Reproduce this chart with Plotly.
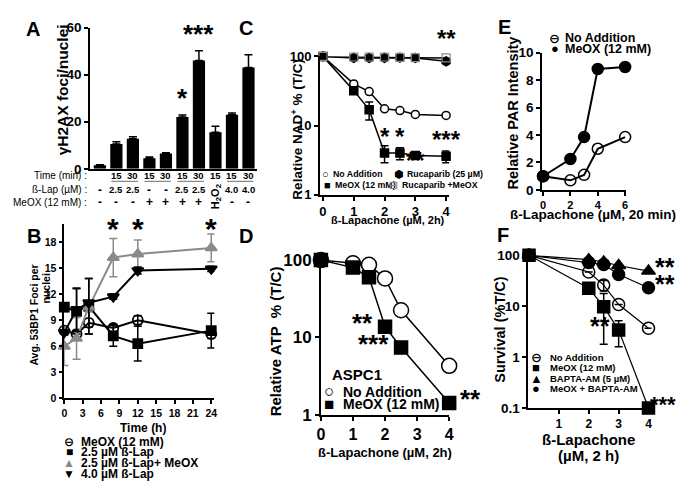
import math
import plotly.graph_objects as go

W, H = 685, 486
def px(x): return x / W
def py(y): return 1 - y / H

FONT = "Liberation Sans, Arial, DejaVu Sans, sans-serif"
GRAY = "#8a8a8a"

# ---------------- DATA ----------------
# Panel A
a_time = ["", "15", "30", "15", "30", "15", "30", "15", "15", "30"]
a_blap = ["-", "2.5", "2.5", "-", "-", "2.5", "2.5", "", "4.0", "4.0"]
a_meox = ["-", "-", "-", "+", "+", "+", "+", "", "-", "-"]
a_foci = [1.5, 10.5, 12.8, 4.5, 6.5, 22.0, 46.0, 15.5, 23.0, 43.0]
a_err = [0.2, 1.0, 0.8, 0.5, 0.3, 0.9, 4.2, 2.6, 0.7, 5.5]
a_h2o2_col = 7
a_pairs = [(1, 2), (3, 4), (5, 6), (8, 9)]
a_stars = {5: "*", 6: "***"}

# Panel B
b_time = [0, 2, 4, 8, 12, 24]
b_meox = [7.8, 7.4, 8.7, 8.1, 9.0, 7.4]
b_meox_err = [0.4, 0.4, 1.3, 0.4, 0.5, 0.5]
b_lap25 = [10.5, 10.0, 10.6, 7.2, 6.3, 7.8]
b_lap25_err = [0.5, 2.6, 3.2, 1.2, 2.0, 2.0]
b_combo = [6.0, 6.9, 10.5, 16.2, 16.6, 17.3]
b_combo_err = [2.2, 2.4, 0.5, 2.2, 1.6, 1.6]
b_lap40 = [7.6, 10.2, 11.0, 11.7, 14.7, 14.9]
b_lap40_err = [0.3, 2.5, 2.8, 0.3, 0.4, 0.3]
b_star_times = [8, 12, 24]
b_star_level = 19.0
b_ticks = [0, 3, 6, 9, 12, 15, 18, 21, 24]

# Panel C
c_dose = [0, 1, 1.5, 2, 2.5, 3, 4]
c_noadd = [100, 40, 31, 17.5, 16.5, 14.5, 14]
c_meox = [100, 32, 17, 4.0, 4.0, 3.7, 3.6]
c_meox_err = [0, 0, 5, 1.1, 0.8, 0, 0.7]
c_ruca = [100, 95, 95, 95, 96, 95, 85]
c_ruca_meox = [100, 98, 98, 98, 97, 96, 95]
c_stars = [(2, 6.0, "*"), (2.5, 6.0, "*"), (3, 2.7, "**"), (4, 5.5, "***")]
c_top_star = (4, 100, "**")

# Panel D
d_dose = [0, 1, 1.5, 2, 2.5, 4]
d_noadd = [100, 91, 87, 58, 22.5, 4.3]
d_noadd_err = [0, 0, 0, 0, 0, 0.7]
d_meox = [100, 80, 60, 13.8, 7.4, 1.42]
d_meox_err = [0, 0, 0, 0, 0, 0.2]

# Panel E
e_dose = [0, 2, 3, 4, 6]
e_noadd = [1.0, 0.7, 1.1, 3.0, 3.85]
e_meox = [1.0, 2.25, 3.85, 8.8, 8.95]

# Panel F
f_dose = [0, 2, 2.5, 3, 4]
f_noadd = [100, 47, 26, 10.8, 3.7]
f_noadd_err = [0, 0, 6, 0, 0]
f_meox = [100, 22.5, 9.8, 3.4, 0.1]
f_meox_err = [0, 0, 8, 1.8, 0]
f_bapta = [100, 82, 74, 63, 49]
f_combo = [100, 72, 66, 42, 23]

log_ticks = [1, 10, 100]
log_ticks_f = [0.1, 1, 10, 100]
log_text_f = ["0.1", "1", "10", "100"]

# ---------------- FIGURE ----------------
fig = go.Figure()

def ax(dom, rng, size, **kw):
    d = dict(domain=dom, range=rng, showline=True, linecolor="black", linewidth=1.5,
             ticks="outside", ticklen=4, tickwidth=1.5, tickcolor="black",
             showgrid=False, zeroline=False, fixedrange=True,
             tickfont=dict(family=FONT, size=size, color="black", weight="bold"))
    d.update(kw)
    return d

def errs(arr, color):
    return dict(type="data", array=arr, visible=True, color=color, thickness=1.5, width=4)

# Panel A bars
a_pos = list(range(len(a_foci)))
fig.add_trace(go.Bar(x=a_pos, y=a_foci, width=0.74, marker=dict(color="black", line=dict(width=0)),
                     error_y=dict(type="data", array=a_err, arrayminus=[0] * len(a_err), symmetric=False,
                                  color="black", thickness=1.5, width=4),
                     xaxis="x", yaxis="y", showlegend=False))

# Panel B
def btrace(y, e, sym, color, size=10):
    mk = dict(symbol=sym, size=size, color=color, line=dict(width=1.8, color=color))
    fig.add_trace(go.Scatter(x=b_time, y=y, mode="lines+markers", line=dict(color=color, width=2),
                             marker=mk, error_y=errs(e, color), xaxis="x2", yaxis="y2",
                             showlegend=False, cliponaxis=False))
btrace(b_meox, b_meox_err, "circle-open", "black")
btrace(b_lap25, b_lap25_err, "square", "black", 9)
btrace(b_combo, b_combo_err, "triangle-up", GRAY, 10)
btrace(b_lap40, b_lap40_err, "triangle-down", "black", 10)

def sc(x, y, xa, ya, sym, size, fill, edge, lw=1.5, e=None, ecol="black", linecol="black", lwidth=1.5):
    kw = {}
    if e is not None:
        kw["error_y"] = errs(e, ecol)
    fig.add_trace(go.Scatter(x=x, y=y, mode="lines+markers", line=dict(color=linecol, width=lwidth),
                             marker=dict(symbol=sym, size=size, color=fill, line=dict(color=edge, width=lw)),
                             xaxis=xa, yaxis=ya, showlegend=False, cliponaxis=False, **kw))

# Panel C
sc(c_dose, c_noadd, "x3", "y3", "circle", 8, "white", "black")
sc(c_dose, c_meox, "x3", "y3", "square", 8, "black", "black", e=c_meox_err)
sc(c_dose, c_ruca, "x3", "y3", "hexagon", 9, "black", "black")
sc(c_dose, c_ruca_meox, "x3", "y3", "square-open", 8, GRAY, GRAY, lw=1.2)

# Panel D
sc(d_dose, d_noadd, "x4", "y4", "circle", 15, "white", "black", e=d_noadd_err)
sc(d_dose, d_meox, "x4", "y4", "square", 13, "black", "black", e=d_meox_err)

# Panel E
sc(e_dose, e_noadd, "x5", "y5", "circle-open", 11, "black", "black", lw=1.5, lwidth=2)
sc(e_dose, e_meox, "x5", "y5", "circle", 11, "black", "black", lwidth=2)

# Panel F
sc(f_dose, f_noadd, "x6", "y6", "circle-open", 12, "black", "black", lw=1.5, e=f_noadd_err, lwidth=1.2)
sc(f_dose, f_meox, "x6", "y6", "square", 12, "black", "black", e=f_meox_err, lwidth=1.2)
sc(f_dose, f_bapta, "x6", "y6", "triangle-up", 12, "black", "black", lwidth=1.2)
sc(f_dose, f_combo, "x6", "y6", "circle", 12, "black", "black", lwidth=1.2)

layout = dict(
    width=W, height=H, margin=dict(l=0, r=0, t=0, b=0),
    paper_bgcolor="white", plot_bgcolor="white", showlegend=False,
    font=dict(family=FONT, color="black"),
    xaxis=ax([px(79), px(248)], [-0.6, 9.5], 12, anchor="y", ticks="", showticklabels=False),
    yaxis=ax([py(158), py(11)], [0, 60], 13.5, anchor="x", tickvals=[0, 20, 40, 60]),
    xaxis2=ax([px(53), px(205)], [0, 24.5], 10.5, anchor="y2", tickvals=b_ticks),
    yaxis2=ax([py(397), py(215)], [0, 20.1], 10.5, anchor="x2", tickvals=[0, 3, 6, 9, 12, 15, 18]),
    xaxis3=ax([px(312), px(443)], [-0.1, 4.1], 13, anchor="y3", tickvals=[0, 1, 2, 3, 4]),
    yaxis3=ax([py(185), py(41)], [0, 2], 13, anchor="x3", type="log", tickvals=log_ticks),
    xaxis4=ax([px(313), px(443)], [0, 4], 16, anchor="y4", tickvals=[0, 1, 2, 3, 4]),
    yaxis4=ax([py(414), py(253)], [0, 2], 17, anchor="x4", type="log", tickvals=log_ticks),
    xaxis5=ax([px(537), px(622)], [-0.08, 6.05], 11, anchor="y5", tickvals=[0, 2, 4, 6]),
    yaxis5=ax([py(180), py(37)], [0, 10], 13.5, anchor="x5", tickvals=[0, 2, 4, 6, 8, 10]),
    xaxis6=ax([px(523), px(648)], [-0.03, 4.1], 12, anchor="y6", tickvals=[1, 2, 3, 4]),
    yaxis6=ax([py(407), py(248)], [-1, 2], 13.5, anchor="x6", type="log",
              tickvals=log_ticks_f, ticktext=log_text_f),
)
fig.update_layout(**layout)

ann = []
shapes = []

def text(x, y, t, size, bold=True, xanchor="center", yanchor="middle", angle=0, color="black", **kw):
    ann.append(dict(x=x, y=y, xref=kw.pop("xref", "paper"), yref=kw.pop("yref", "paper"), text=t,
                    showarrow=False, xanchor=xanchor, yanchor=yanchor, textangle=angle,
                    font=dict(family=FONT, size=size, color=color, weight="bold" if bold else "normal"), **kw))

L = math.log10  # annotations on log axes take log10 positions
SY = 4          # lift that centres an asterisk glyph on its anchor

# Panel letters
for letter, (lx, ly) in {"A": (21, 13), "B": (22, 228), "C": (237, 11), "D": (237, 228),
                         "E": (499, 10), "F": (498, 227)}.items():
    text(px(lx), py(ly), letter, 20)

# Panel A labels
text(px(51), py(76), "γH2AX foci/nuclei", 15.5, angle=-90)
row_y = [165, 180, 193]
for lab, yy in zip(["Time (min) :", "ß-Lap (µM) :", "MeOX (12 mM) :"], row_y):
    text(px(78), py(yy), lab, 10, bold=False, xanchor="right")
for row, yy in zip([a_time, a_blap, a_meox], row_y):
    for i, t in enumerate(row):
        if t:
            text(i, py(yy), t, 9.5 if t not in "+-" else 12, xref="x")
text(a_h2o2_col, py(187), "H<sub>2</sub>O<sub>2</sub>", 11, angle=-90, xref="x")
for i0, i1 in a_pairs:
    shapes.append(dict(type="line", xref="x", yref="paper", x0=i0 - 0.3, x1=i1 + 0.3,
                       y0=py(171), y1=py(171), line=dict(color=GRAY, width=1.3)))
for i, s in a_stars.items():
    text(i, a_foci[i] + a_err[i], s, 26, xref="x", yref="y", yanchor="bottom", yshift=0)

# Panel B labels
text(px(22), py(310), "Avg. 53BP1 Foci per", 10.5, angle=-90)
text(px(34), py(283), "nuclei", 10.5, angle=-90)
text(px(133), py(428), "Time (h)", 12)
for t in b_star_times:
    text(t, b_star_level, "*", 30, xref="x2", yref="y2", yshift=5)
b_leg = [("⊖", "black", "MeOX (12 mM)"), ("■", "black", "2.5 µM ß-Lap"),
         ("▲", GRAY, "2.5 µM ß-Lap+ MeOX"), ("▼", "black", "4.0 µM ß-Lap")]
for (sym, col, lab), yy in zip(b_leg, [442, 453, 464, 476]):
    text(px(58), py(yy), sym, 12, color=col)
    text(px(68), py(yy), lab, 12, xanchor="left")

# Panel C labels
text(px(289), py(117), "Relative NAD<sup>+</sup> % (T/C)", 13.5, angle=-90)
text(px(381), py(211), "ß-Lapachone (µM, 2h)", 11)
for x, y, s in c_stars:
    text(x, L(y), s, 24, xref="x3", yref="y3", yshift=SY)
text(c_top_star[0], L(c_top_star[1]), c_top_star[2], 24, xref="x3", yref="y3", yshift=18)
c_leg = [("○", "black", "No Addition", 318, 323, 163), ("⬢", "black", "Rucaparib (25 µM)", 392, 398, 163),
         ("■", "black", "MeOX (12 mM)", 320, 325, 175), ("⊟", GRAY, "Rucaparib +MeOX", 387, 393, 175)]
for sym, col, lab, sx, tx, yy in c_leg:
    text(px(sx), py(yy), sym, 11, color=col)
    text(px(tx), py(yy), lab, 8.8, xanchor="left")

# Panel D labels
text(px(267), py(337), "Relative ATP  % (T/C)", 15, angle=-90)
text(px(378), py(453), "ß-Lapachone (µM, 2h)", 13)
text(px(322), py(372), "ASPC1", 15, xanchor="left")
for sym, lab, yy in [("○", "No Addition", 390), ("■", "MeOX (12 mM)", 403)]:
    text(px(321), py(yy), sym, 17)
    text(px(333), py(yy), lab, 14, xanchor="left")
text(2, L(d_meox[3]), "**", 26, xref="x4", yref="y4", xanchor="right", xshift=-10, yshift=SY)
text(2.5, L(d_meox[4]), "***", 26, xref="x4", yref="y4", xanchor="right", xshift=-10, yshift=SY)
text(4, L(d_meox[5]), "**", 26, xref="x4", yref="y4", xanchor="left", xshift=9, yshift=SY)

# Panel E labels
text(px(508), py(100), "Relative PAR Intensity", 14.5, angle=-90)
text(px(589), py(206), "ß-Lapachone (µM, 20 min)", 13.5)
for sym, lab, yy in [("⊖", "No Addition", 22), ("●", "MeOX (12 mM)", 33)]:
    text(px(550), py(yy), sym, 13)
    text(px(558), py(yy), lab, 12.5, xanchor="left")

# Panel F labels
text(px(495), py(325), "Survival (%T/C)", 14.5, angle=-90)
text(px(584), py(440), "ß-Lapachone", 15)
text(px(584), py(456), "(µM, 2 h)", 15)
f_leg = [("⊖", "No Addition"), ("■", "MeOX (12 mM)"), ("▲", "BAPTA-AM (5 µM)"), ("●", "MeOX + BAPTA-AM")]
for (sym, lab), yy in zip(f_leg, [354, 365, 376, 387]):
    text(px(531), py(yy), sym, 13)
    text(px(543), py(yy), lab, 9.5, xanchor="left")
text(4, L(f_bapta[4]), "**", 25, xref="x6", yref="y6", xanchor="left", xshift=5, yshift=SY)
text(4, L(f_combo[4]), "**", 25, xref="x6", yref="y6", xanchor="left", xshift=5, yshift=SY)
text(3, L(f_meox[3]), "**", 25, xref="x6", yref="y6", xanchor="right", xshift=-7, yshift=SY)
text(4, L(f_meox[4]), "***", 22, xref="x6", yref="y6", xanchor="left", xshift=0, yshift=SY)

fig.update_layout(annotations=ann, shapes=shapes)
fig.write_html("out.html")
